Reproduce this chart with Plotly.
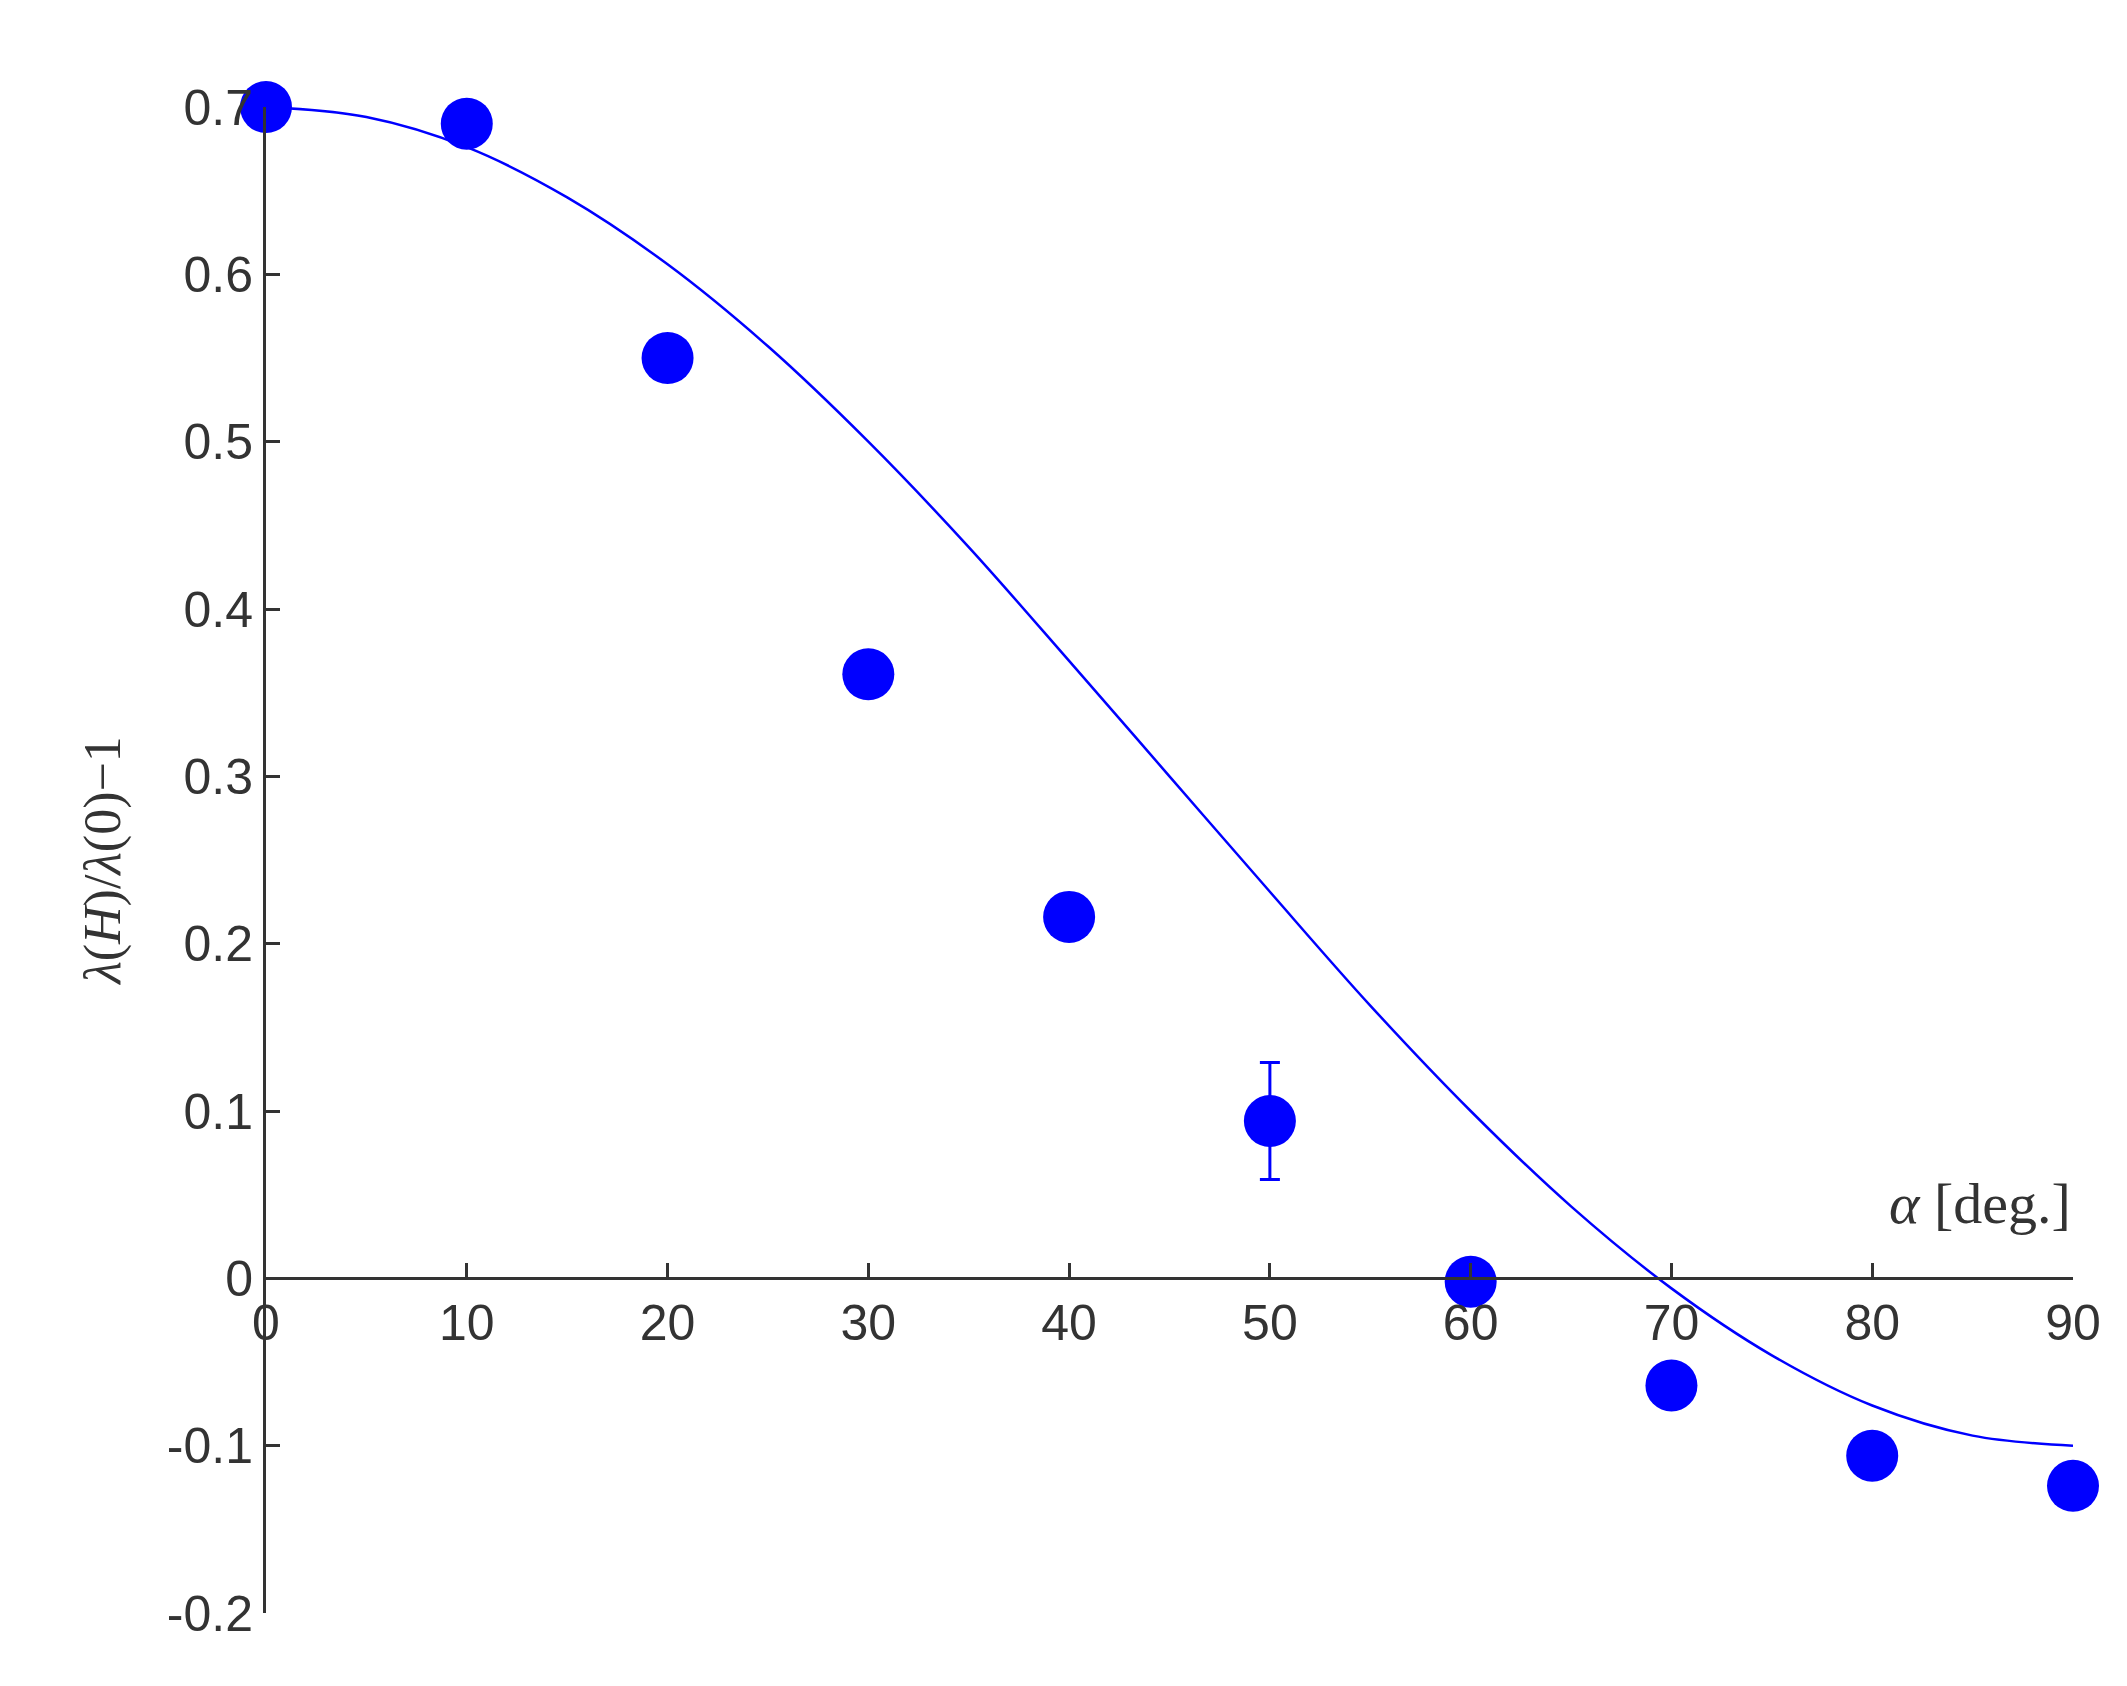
import plotly.graph_objects as go

# measured points
alpha = [0, 10, 20, 30, 40, 50, 60, 70, 80, 90]
ratio = [0.700, 0.690, 0.550, 0.361, 0.216, 0.094, -0.002, -0.064, -0.106, -0.124]
err_plus = [0, 0, 0, 0, 0, 0.035, 0, 0, 0, 0]
err_minus = [0, 0, 0, 0, 0, 0.035, 0, 0, 0, 0]

# fitted curve
curve_a = [0, 5, 10, 15, 20, 25, 30, 35, 40, 45, 50, 55, 60, 65, 70, 75, 80, 85, 90]
curve_r = [0.700, 0.694, 0.676, 0.646, 0.606, 0.557, 0.500, 0.437, 0.369, 0.300,
           0.231, 0.163, 0.100, 0.043, -0.006, -0.046, -0.076, -0.094, -0.100]

xticks = [0, 10, 20, 30, 40, 50, 60, 70, 80, 90]
yticks = [-0.2, -0.1, 0, 0.1, 0.2, 0.3, 0.4, 0.5, 0.6, 0.7]
ytick_text = ["-0.2", "-0.1", "0", "0.1", "0.2", "0.3", "0.4", "0.5", "0.6", "0.7"]

blue = "#0000ff"
fig = go.Figure()
fig.add_trace(go.Scatter(x=curve_a, y=curve_r, mode="lines", line=dict(color=blue, width=2.5, shape="spline"),
                         showlegend=False, cliponaxis=False))
fig.add_trace(go.Scatter(x=alpha, y=ratio, mode="markers",
                         marker=dict(color=blue, size=52),
                         error_y=dict(type="data", symmetric=False, array=err_plus, arrayminus=err_minus,
                                      color=blue, thickness=3, width=10),
                         showlegend=False, cliponaxis=False))

fig.update_layout(
    width=2127, height=1686,
    margin=dict(l=258, r=62, t=99, b=81),
    paper_bgcolor="white", plot_bgcolor="white",
    font=dict(family="Arial, Liberation Sans", size=50, color="#333333"),
    xaxis=dict(range=[0, 90], tickvals=xticks, showgrid=False, zeroline=False,
               showline=True, linecolor="#333333", linewidth=3,
               ticks="inside", ticklen=14, tickwidth=3, tickcolor="#333333",
               anchor="free", position=0.2222),
    yaxis=dict(range=[-0.2, 0.7], tickvals=yticks, ticktext=ytick_text, showgrid=False, zeroline=False,
               showline=True, linecolor="#333333", linewidth=3,
               ticks="inside", ticklen=14, tickwidth=3, tickcolor="#333333",
               title=dict(text="<i>λ</i>(<i>H</i>)/<i>λ</i>(0)−1", standoff=30,
                          font=dict(family="Liberation Serif, Times New Roman", size=52, color="#333333"))),
    annotations=[dict(x=90, y=0, xref="x", yref="y", xanchor="right", yanchor="bottom", yshift=40,
                      showarrow=False, text="<i>α</i> [deg.]",
                      font=dict(family="Liberation Serif, Times New Roman", size=58, color="#333333"))],
)
fig.write_html("out.html")
